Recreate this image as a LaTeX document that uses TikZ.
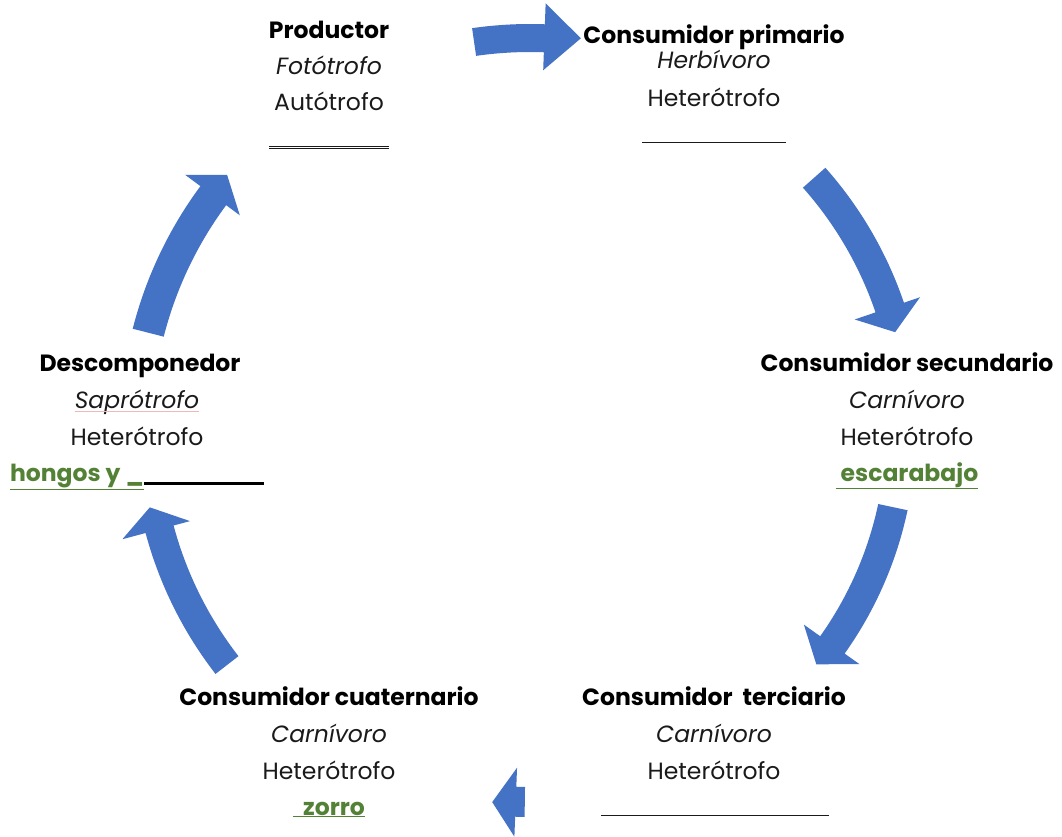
\documentclass[tikz,border=0pt]{standalone}
\usepackage{fontspec}
\setmainfont{Poppins}
\definecolor{arrowblue}{HTML}{4472C4}
\definecolor{txt}{HTML}{1A1A1A}
\definecolor{grn}{HTML}{538135}
\definecolor{spell}{HTML}{F2B8B8}
\newcommand\cycarrow[8]{%
  \fill[arrowblue] plot[domain=#1:#2, samples=30] ({530+#5*cos(\x)},{430+#5*sin(\x)})
   -- ({530+#7*cos(#2)},{430+#7*sin(#2)})
   -- ({530+#8*cos(#3)},{430+#8*sin(#3)})
   -- ({530+#6*cos(#2)},{430+#6*sin(#2)})
   -- plot[domain=#2:#1, samples=30] ({530+#4*cos(\x)},{430+#4*sin(\x)}) -- cycle;}
\newcommand\blank[2][1.4pt]{\rule[-4pt]{#2}{#1}}
\begin{document}
\begin{tikzpicture}[x=1pt,y=-1pt,
  every node/.style={inner sep=0pt, outer sep=0pt},
  ttl/.style={anchor=base, font=\fontsize{23.5}{28}\selectfont\bfseries, text=black},
  itl/.style={anchor=base, font=\fontsize{23.5}{28}\selectfont\itshape, text=txt},
  reg/.style={anchor=base, font=\fontsize{23.5}{28}\selectfont, text=txt},
  gbl/.style={anchor=base, font=\fontsize{23.5}{28}\selectfont\bfseries, text=grn}]
\useasboundingbox (0,0) rectangle (1062,837);
\fill[white] (0,0) rectangle (1062,837);

% cycle arrows
\cycarrow{261.8}{272.1}{277.4}{378}{406}{360}{427}{395}
\cycarrow{-41.6}{-18.8}{-15.0}{365}{395}{343}{412}{378}
\cycarrow{12.0}{35.4}{39.3}{356}{386}{336}{404}{370}
\cycarrow{90.8}{92.2}{95.8}{357}{387}{338}{407}{374}
\cycarrow{142.2}{165.0}{168.5}{369}{398}{352}{422}{388}
\cycarrow{194.3}{216.5}{220.1}{378}{410}{361}{429}{396}

% Productor
\node[ttl] (p1) at (329,39) {Productor};
\node[itl] (p2) at (329,75) {Fotótrofo};
\node[reg] (p3) at (329,111) {Autótrofo};
\node[reg] (p4) at (329,143) {\underline{\blank{120pt}}};

% Consumidor primario
\node[ttl] (c1) at (714,44) {Consumidor primario};
\node[itl] (c2) at (714,69) {Herbívoro};
\node[reg] (c3) at (714,107) {Heterótrofo};
\node[reg] (c4) at (714,139) {\blank{144pt}};

% Consumidor secundario
\node[ttl] (s1) at (907,371) {Consumidor secundario};
\node[itl] (s2) at (907,408) {Carnívoro};
\node[reg] (s3) at (907,445) {Heterótrofo};
\node[gbl] (s4) at (907,481) {\underline{\ escarabajo}};

% Consumidor terciario
\node[ttl] (t1) at (714,705) {Consumidor\ \ terciario};
\node[itl] (t2) at (714,742) {Carnívoro};
\node[reg] (t3) at (714,779) {Heterótrofo};
\node[reg] (t4) at (715,812) {\blank{228pt}};

% Consumidor cuaternario
\node[ttl] (q1) at (329,705) {Consumidor cuaternario};
\node[itl] (q2) at (329,742) {Carnívoro};
\node[reg] (q3) at (329,779) {Heterótrofo};
\node[gbl] (q4) at (329,815) {\underline{\ \ zorro}};

% Descomponedor
\node[ttl] (d1) at (140,371) {Descomponedor};
\node[itl] (d2) at (137,408) {Saprótrofo};
\draw[spell, line width=0.8pt] (d2.base west) ++(0,3) -- ([yshift=-3pt]d2.base east);
\node[reg] (d3) at (137,445) {Heterótrofo};
\node[gbl, anchor=base west] (d4) at (10,481) {\underline{hongos y \_}{\color{black}\blank[3pt]{120pt}}};
\end{tikzpicture}
\end{document}
